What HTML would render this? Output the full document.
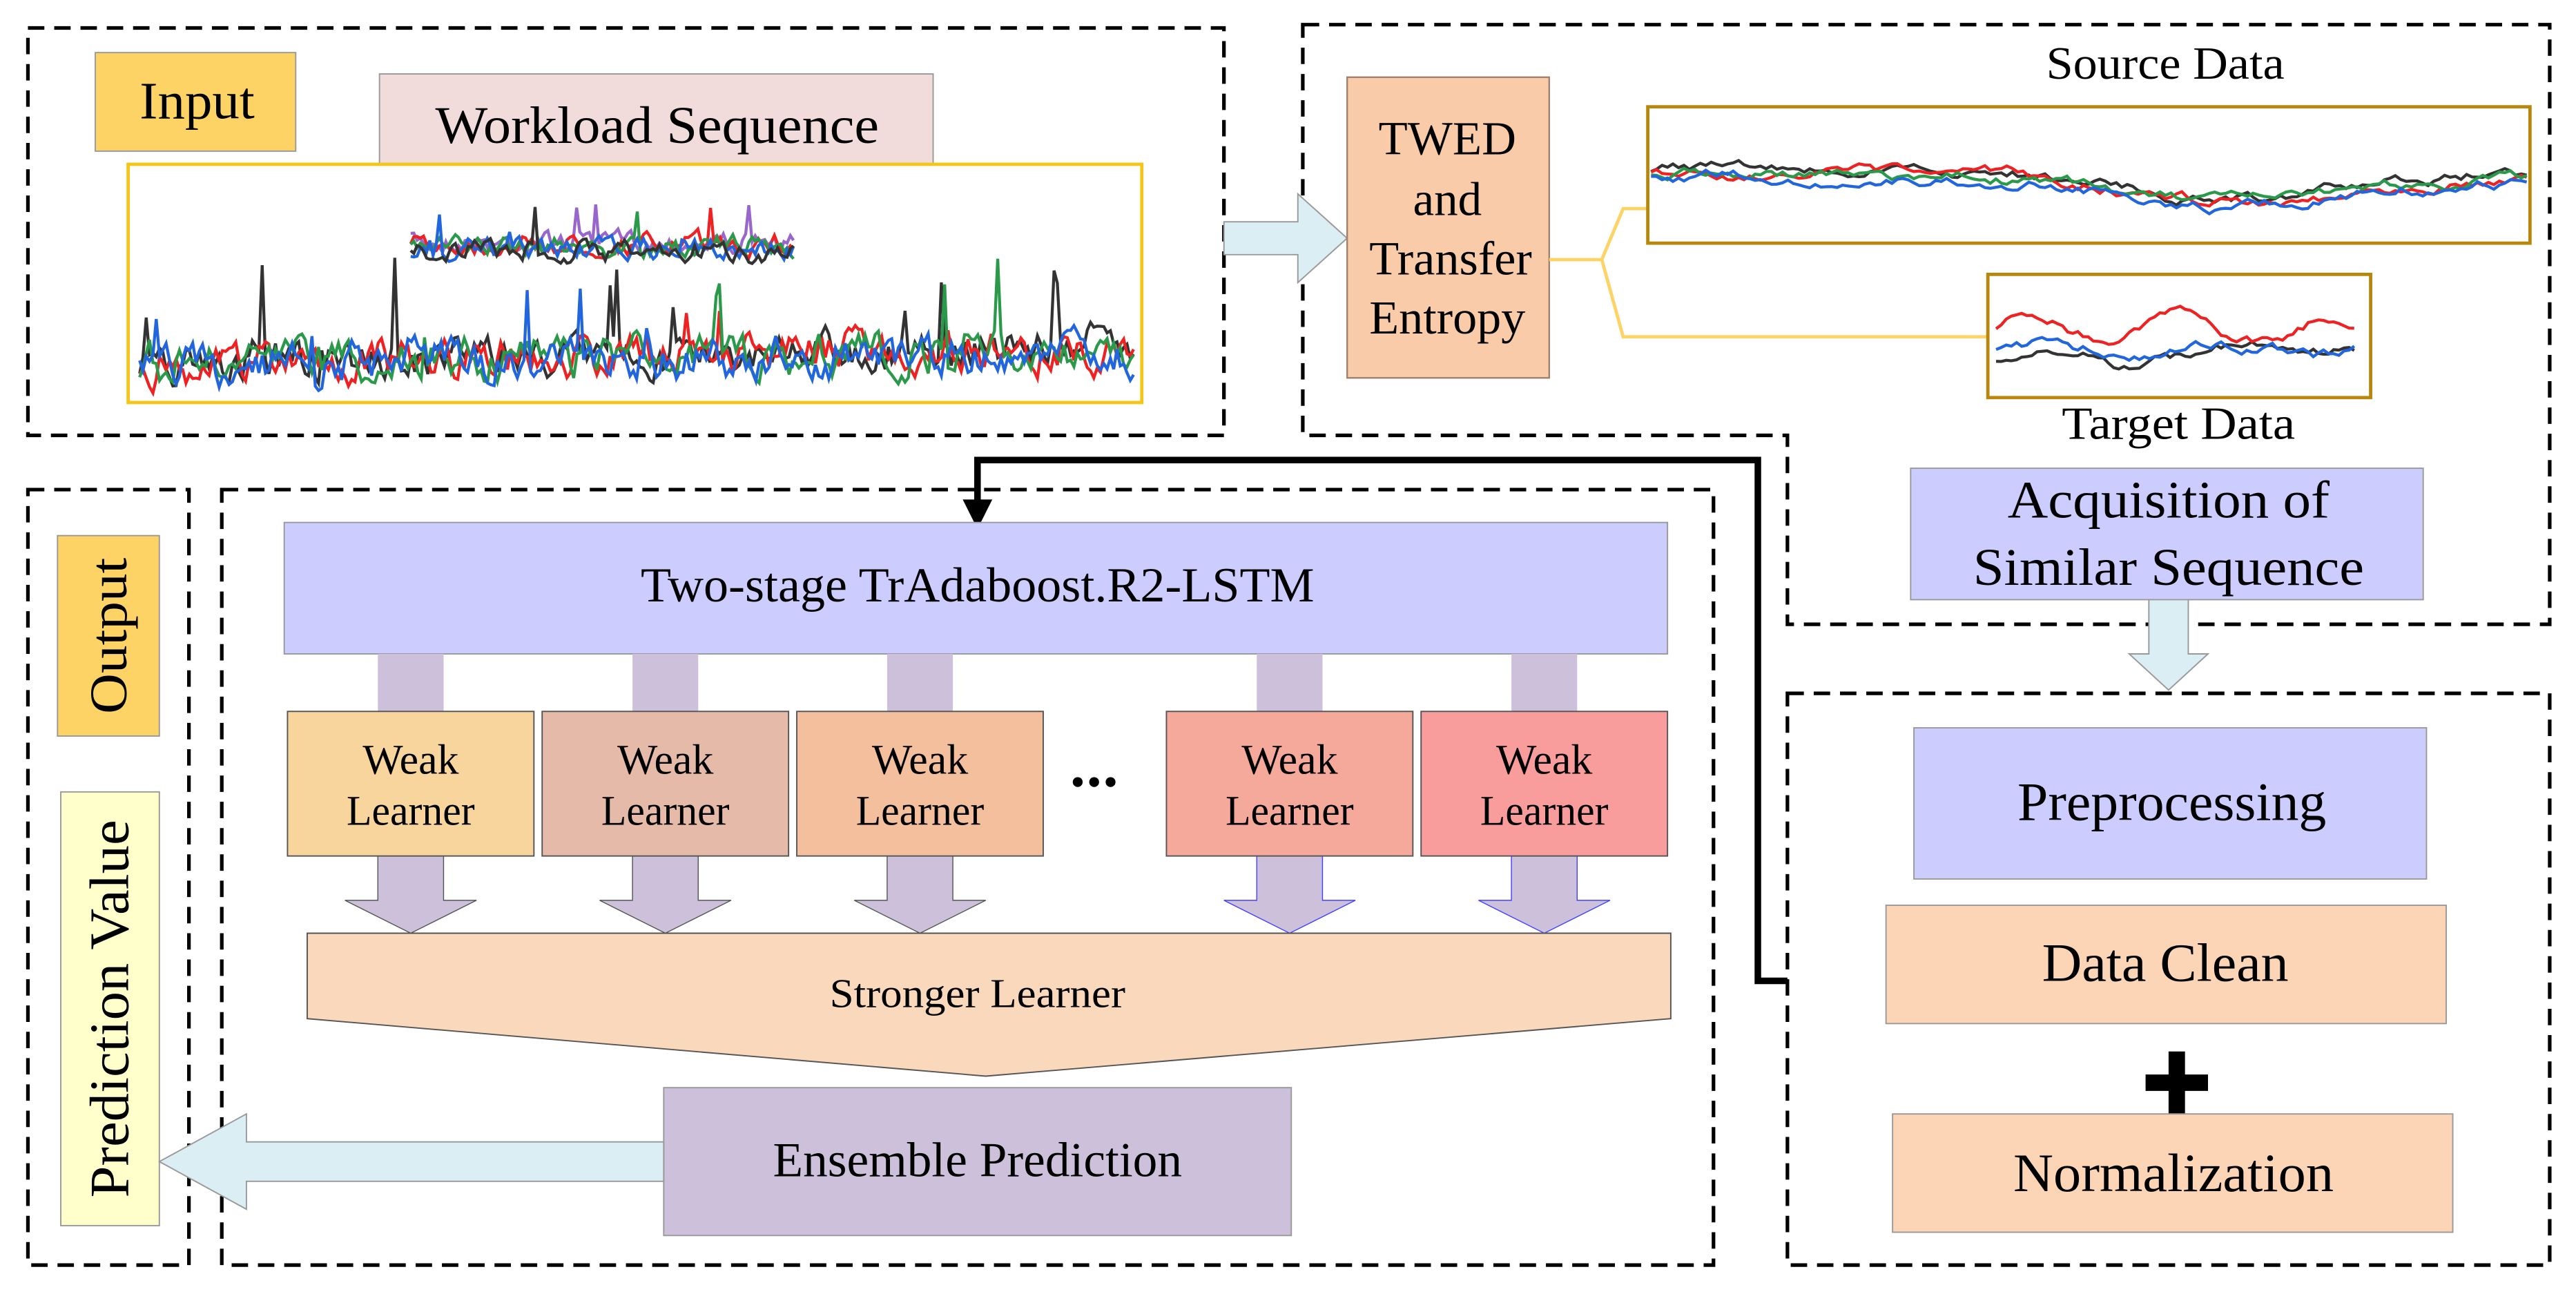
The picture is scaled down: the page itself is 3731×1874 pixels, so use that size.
<!DOCTYPE html>
<html><head><meta charset="utf-8"><style>
html,body{margin:0;padding:0;background:#fff;}
svg{display:block;}
text{font-family:"Liberation Serif","Times New Roman","DejaVu Serif",serif;fill:#000;}
</style></head><body>
<svg id="s" width="3731" height="1874" viewBox="0 0 1568 787.6" preserveAspectRatio="none" xmlns="http://www.w3.org/2000/svg">
<g fill="none" stroke="#000" stroke-width="2.2" stroke-dasharray="10,6">
<rect x="17" y="17" width="728" height="248"/>
<path d="M793,15 H1552 V380 H1088 V265 H793 Z"/>
<rect x="1088" y="422" width="464" height="348"/>
<rect x="17" y="298" width="98" height="472"/>
<rect x="135" y="298" width="908" height="472"/>
</g>
<rect x="58" y="32" width="122" height="60" fill="#fdd365" stroke="#999" stroke-width="0.8"/>
<text x="120" y="72" font-size="32" text-anchor="middle" textLength="70" lengthAdjust="spacingAndGlyphs">Input</text>
<rect x="231" y="45" width="337" height="55" fill="#f2dcdb" stroke="#999" stroke-width="0.8"/>
<text x="400" y="87" font-size="32" text-anchor="middle" textLength="270" lengthAdjust="spacingAndGlyphs">Workload Sequence</text>
<rect x="78" y="100" width="617" height="145" fill="#fff" stroke="#f5c518" stroke-width="2"/>
<g id="c1"></g>
<path d="M745,135 H790 V118 L820,145 L790,172 V155 H745 Z" fill="#dbeef3" stroke="#999" stroke-width="0.8"/>
<rect x="820" y="47" width="123" height="183" fill="#f9cba8" stroke="#a08070" stroke-width="1"/>
<g font-size="29" text-anchor="middle"><text x="881" y="94">TWED</text><text x="881" y="131">and</text><text x="883" y="167" textLength="99" lengthAdjust="spacingAndGlyphs">Transfer</text><text x="881" y="203" textLength="95" lengthAdjust="spacingAndGlyphs">Entropy</text></g>
<path d="M943,158 H975 L988,127 H1003 M975,158 L988,205 H1210" fill="none" stroke="#fdd365" stroke-width="2"/>
<text x="1318" y="48" font-size="28" text-anchor="middle" textLength="145" lengthAdjust="spacingAndGlyphs">Source Data</text>
<rect x="1003" y="65" width="537" height="83" fill="#fff" stroke="#b8860b" stroke-width="2"/>
<g id="c2"></g>
<rect x="1210" y="167" width="233" height="75" fill="#fff" stroke="#b8860b" stroke-width="2"/>
<g id="c3"></g>
<text x="1326" y="267" font-size="28" text-anchor="middle" textLength="142" lengthAdjust="spacingAndGlyphs">Target Data</text>
<rect x="1163" y="285" width="312" height="80" fill="#ccccff" stroke="#999" stroke-width="0.8"/>
<g font-size="32" text-anchor="middle"><text x="1320" y="315" textLength="196" lengthAdjust="spacingAndGlyphs">Acquisition of</text><text x="1320" y="356" textLength="238" lengthAdjust="spacingAndGlyphs">Similar Sequence</text></g>
<path d="M1308,365 H1332 V398 H1344 L1320,420 L1296,398 H1308 Z" fill="#dbeef3" stroke="#999" stroke-width="0.8"/>
<rect x="1165" y="443" width="312" height="92" fill="#ccccff" stroke="#999" stroke-width="0.8"/>
<text x="1322" y="499" font-size="33" text-anchor="middle" textLength="188" lengthAdjust="spacingAndGlyphs">Preprocessing</text>
<rect x="1148" y="551" width="341" height="72" fill="#fbd5b5" stroke="#999" stroke-width="0.8"/>
<text x="1318" y="597" font-size="33" text-anchor="middle" textLength="150" lengthAdjust="spacingAndGlyphs">Data Clean</text>
<path d="M1320,640 h10 v14 h14 v10 h-14 v14 h-10 v-14 h-14 v-10 h14 Z" fill="#000"/>
<rect x="1152" y="678" width="341" height="72" fill="#fbd5b5" stroke="#999" stroke-width="0.8"/>
<text x="1323" y="725" font-size="33" text-anchor="middle" textLength="195" lengthAdjust="spacingAndGlyphs">Normalization</text>
<path d="M1088,597 H1070 V280 H595 V308" fill="none" stroke="#000" stroke-width="4"/>
<path d="M586,304 L604,304 L595,322 Z" fill="#000"/>
<rect x="35" y="326" width="62" height="122" fill="#fdd365" stroke="#999" stroke-width="0.8"/>
<text transform="translate(77,387) rotate(-90)" font-size="32" text-anchor="middle" textLength="95" lengthAdjust="spacingAndGlyphs">Output</text>
<rect x="37" y="482" width="60" height="264" fill="#ffffcc" stroke="#999" stroke-width="0.8"/>
<text transform="translate(78,614) rotate(-90)" font-size="34" text-anchor="middle" textLength="230" lengthAdjust="spacingAndGlyphs">Prediction Value</text>
<rect x="173" y="318" width="842" height="80" fill="#ccccff" stroke="#999" stroke-width="0.8"/>
<text x="595" y="366" font-size="30" text-anchor="middle" textLength="410" lengthAdjust="spacingAndGlyphs">Two-stage TrAdaboost.R2-LSTM</text>
<g id="wl"></g>
<path d="M187,568 H1017 V620 L600,655 L187,620 Z" fill="#fad8bb" stroke="#555" stroke-width="0.8"/>
<text x="595" y="613" font-size="25" text-anchor="middle" textLength="180" lengthAdjust="spacingAndGlyphs">Stronger Learner</text>
<rect x="404" y="662" width="382" height="90" fill="#ccc0da" stroke="#999" stroke-width="0.8"/>
<text x="595" y="716" font-size="30" text-anchor="middle" textLength="249" lengthAdjust="spacingAndGlyphs">Ensemble Prediction</text>
<path d="M404,695 H150 V678 L97,707 L150,736 V719 H404 Z" fill="#dbeef3" stroke="#999" stroke-width="0.8"/>
<g fill="#000"><circle cx="656" cy="476" r="3"/><circle cx="666" cy="476" r="3"/><circle cx="676" cy="476" r="3"/></g>
</svg>
<script>
var wl=document.getElementById("wl");
var xs=[175,330,485,710,865],cols=["#f8d59c","#e5baa9","#f4bf9c","#f4a99a","#f89c9c"];
var h="";
xs.forEach(function(x,i){var c=x+75;
h+='<rect x="'+(c-20)+'" y="398" width="40" height="35" fill="#ccc0da"/>';
h+='<path d="M'+(c-20)+',521 V548 H'+(c-40)+' L'+c+',568 L'+(c+40)+',548 H'+(c+20)+' V521 Z" fill="#ccc0da" stroke="'+(i>2?'#44f':'#555')+'" stroke-width="0.6"/>';
h+='<rect x="'+x+'" y="433" width="150" height="88" fill="'+cols[i]+'" stroke="#555" stroke-width="0.8"/>';
h+='<text x="'+c+'" y="471" font-size="26" text-anchor="middle">Weak</text><text x="'+c+'" y="502" font-size="26" text-anchor="middle" textLength="78" lengthAdjust="spacingAndGlyphs">Learner</text>';});
wl.innerHTML=h;
var seed=7;function r(){seed=(seed*16807)%2147483647;return seed/2147483647;}
function lines(g,x0,x1,base,amp,n,colors,spike,trend,sm){var s="";
colors.forEach(function(col,k){var p=[];var v=0;for(var i=0;i<=n;i++){var x=x0+(x1-x0)*i/n;
v=v*(sm||0.6)+(r()-0.5)*amp;var y=base+v+(trend?trend(i/n,k):0)+k*1.5;if(spike&&r()<spike)y-=r()*amp*2.5;p.push(x.toFixed(1)+","+y.toFixed(1));}
s+='<polyline points="'+p.join(" ")+'" fill="none" stroke="'+col+'" stroke-width="1.8"/>';});
document.getElementById(g).innerHTML+=s;}
var C=["#333","#e22","#2a9a4a","#2266dd"];
lines("c1",250,483,147,10,120,["#9966cc","#e22","#2a9a4a","#2266dd","#333"],0.015);
lines("c1",85,690,220,20,300,["#333","#e22","#2a9a4a","#2266dd"],0.02,function(t){return -t*10;});
lines("c2",1005,1538,110,5,160,C,0,function(t){return -Math.sin(t*6.5+0.3)*8-Math.cos(t*14)*3;},0.85);
lines("c3",1215,1433,210,5,70,["#333","#e22","#2266dd"],0,function(t,k){return k==1?-12-Math.sin(t*15)*8:(k==0?12-t*12:0)-Math.sin(t*12)*4;},0.8);
</script>
</body></html>
